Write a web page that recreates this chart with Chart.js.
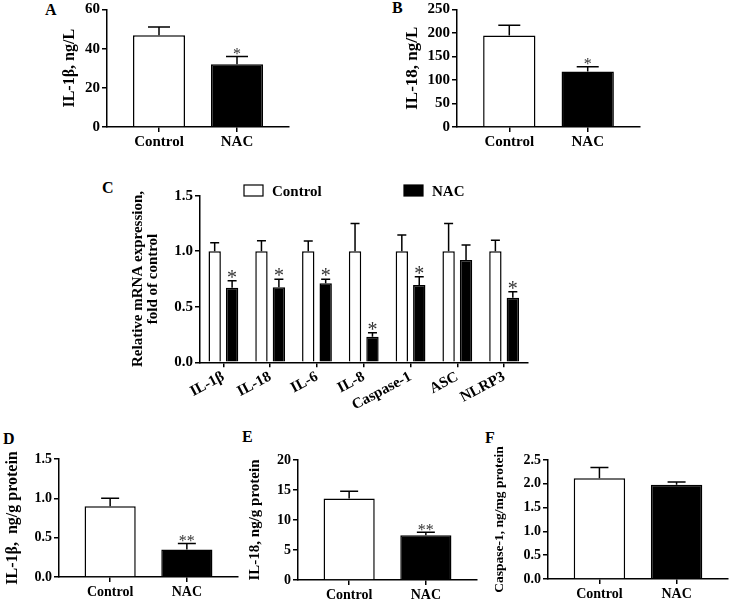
<!DOCTYPE html>
<html>
<head>
<meta charset="utf-8">
<script src="https://cdn.jsdelivr.net/npm/chart.js@4.4.0/dist/chart.umd.min.js"></script>
<style>
  body { margin: 0; background: #fff; }
  #fig { position: relative; width: 729px; height: 600px; overflow: hidden; }
  canvas { position: absolute; }
  .tag { position: absolute; font: bold 16px "Liberation Serif", "Times New Roman", serif; line-height: 1; color: #000; }
</style>
</head>
<body>
<div id="fig">
  <div class="tag" style="left:45px;top:2px">A</div>
  <div class="tag" style="left:392px;top:0px">B</div>
  <div class="tag" style="left:102px;top:180px">C</div>
  <div class="tag" style="left:3px;top:431px">D</div>
  <div class="tag" style="left:242px;top:429px">E</div>
  <div class="tag" style="left:485px;top:430px">F</div>

  <canvas id="chartA" width="260" height="160" style="left:40px;top:0px"></canvas>
  <canvas id="chartB" width="280" height="160" style="left:370px;top:0px"></canvas>
  <canvas id="chartC" width="430" height="250" style="left:110px;top:170px"></canvas>
  <canvas id="chartD" width="245" height="180" style="left:0px;top:420px"></canvas>
  <canvas id="chartE" width="245" height="180" style="left:240px;top:420px"></canvas>
  <canvas id="chartF" width="249" height="180" style="left:480px;top:420px"></canvas>
</div>

<script>
// groups for the two-bar panels
const groups = ["Control", "NAC"];

// A - serum IL-1β
const aValues = [46.9, 32.1];
const aErrors = [4.2, 3.9];
const aMarks = ["", "*"];
const aTicks = [0, 20, 40, 60];

// B - serum IL-18
const bValues = [194.6, 118];
const bErrors = [22, 10];
const bMarks = ["", "*"];
const bTicks = [0, 50, 100, 150, 200, 250];

// C - relative mRNA expression
const genes = ["IL-1β", "IL-18", "IL-6", "IL-8", "Caspase-1", "ASC", "NLRP3"];
const cControl = [1, 1, 1, 1, 1, 1, 1];
const cControlErr = [0.077, 0.095, 0.092, 0.25, 0.146, 0.25, 0.10];
const cNac = [0.672, 0.675, 0.711, 0.231, 0.696, 0.921, 0.582];
const cNacErr = [0.063, 0.072, 0.036, 0.036, 0.075, 0.135, 0.054];
const cNacMarks = ["*", "*", "*", "*", "*", "", "*"];
const cTicks = [0, 0.5, 1, 1.5];

// D - tissue IL-1β
const dValues = [0.90, 0.35];
const dErrors = [0.10, 0.076];
const dMarks = ["", "**"];
const dTicks = [0, 0.5, 1, 1.5];

// E - tissue IL-18
const eValues = [13.6, 7.44];
const eErrors = [1.2, 0.5];
const eMarks = ["", "**"];
const eTicks = [0, 5, 10, 15, 20];

// F - tissue caspase-1
const fValues = [2.115, 1.98];
const fErrors = [0.225, 0.06];
const fMarks = ["", ""];
const fTicks = [0, 0.5, 1, 1.5, 2, 2.5];

const SERIF = '"Liberation Serif", "Times New Roman", serif';
Chart.defaults.font.family = SERIF;
Chart.defaults.color = "#000";

/* ==========================
   ERROR BARS + ASTERISKS
========================== */
const errorBars = {
    id: "errorBars",
    afterDatasetsDraw(chart, args, opts) {
        const ctx = chart.ctx;
        const yScale = chart.scales.y;
        chart.data.datasets.forEach((ds, di) => {
            const meta = chart.getDatasetMeta(di);
            meta.data.forEach((bar, i) => {
                const raw = ds.data[i];
                const val = typeof raw === "object" ? raw.y : raw;
                const top = yScale.getPixelForValue(val + ds.errors[i]);
                ctx.save();
                ctx.strokeStyle = "#000";
                ctx.lineWidth = 1.5;
                ctx.beginPath();
                ctx.moveTo(bar.x, bar.y);
                ctx.lineTo(bar.x, top);
                ctx.moveTo(bar.x - opts.cap / 2, top);
                ctx.lineTo(bar.x + opts.cap / 2, top);
                ctx.stroke();
                const mark = ds.marks && ds.marks[i];
                if (mark) {
                    ctx.font = opts.markSize + "px " + SERIF;
                    ctx.fillStyle = opts.markColor;
                    ctx.textAlign = "center";
                    ctx.textBaseline = "alphabetic";
                    ctx.fillText(mark, bar.x, top + opts.markShift);
                }
                ctx.restore();
            });
        });
    }
};

/* ==========================
   LEGEND FOR PANEL C
========================== */
const boxLegend = {
    id: "boxLegend",
    afterDraw(chart, args, opts) {
        if (!opts.x) return;
        const ctx = chart.ctx;
        chart.data.datasets.forEach((ds, i) => {
            const x = opts.x[i];
            ctx.save();
            ctx.fillStyle = ds.backgroundColor;
            ctx.fillRect(x, opts.y, 19, 11);
            ctx.strokeStyle = "#000";
            ctx.lineWidth = 1.2;
            ctx.strokeRect(x, opts.y, 19, 11);
            ctx.fillStyle = "#000";
            ctx.font = "bold 15px " + SERIF;
            ctx.textBaseline = "alphabetic";
            ctx.fillText(ds.label, x + 28, opts.y + 10.5);
            ctx.restore();
        });
    }
};

function yAxis(cfg) {
    return {
        min: cfg.ticks[0],
        max: cfg.ticks[cfg.ticks.length - 1],
        afterBuildTicks: s => { s.ticks = cfg.ticks.map(v => ({ value: v })); },
        afterFit: s => { s.width = cfg.yWidth; },
        ticks: {
            font: { size: cfg.tickSize, weight: "bold", lineHeight: 1 },
            color: "#000",
            padding: 2,
            callback: v => v.toFixed(cfg.decimals)
        },
        grid: { drawOnChartArea: false, tickLength: 5, color: "#000", lineWidth: 1.5 },
        border: { color: "#000", width: 1.5 },
        title: {
            display: true,
            text: cfg.title,
            color: "#000",
            font: { size: cfg.titleSize, weight: "bold", lineHeight: cfg.titleLine || 1 },
            padding: { top: cfg.titlePad, bottom: 0 }
        }
    };
}

function pairChart(id, cfg) {
    return new Chart(document.getElementById(id), {
        type: "bar",
        data: {
            datasets: [{
                data: cfg.values.map((v, i) => ({ x: i, y: v })),
                errors: cfg.errors,
                marks: cfg.marks,
                backgroundColor: ["#ffffff", "#000000"],
                borderColor: "#000",
                borderWidth: 1.5,
                categoryPercentage: 1,
                barPercentage: 0.667
            }]
        },
        options: {
            animation: false,
            responsive: false,
            layout: { padding: cfg.pad },
            plugins: {
                legend: { display: false },
                tooltip: { enabled: false },
                errorBars: { cap: cfg.cap, markSize: cfg.markSize, markShift: cfg.markShift, markColor: "#333" }
            },
            scales: {
                x: {
                    type: "linear",
                    min: -2 / 3,
                    max: groups.length - 1 + 2 / 3,
                    offset: false,
                    afterBuildTicks: s => { s.ticks = groups.map((g, i) => ({ value: i })); },
                    afterFit: s => { s.height = cfg.xHeight; },
                    ticks: {
                        font: { size: cfg.tickSize, weight: "bold", lineHeight: 1 },
                        color: "#000",
                        padding: 3,
                        maxRotation: 0,
                        autoSkip: false,
                        callback: v => groups[v]
                    },
                    grid: { drawOnChartArea: false, offset: false, tickLength: 5, color: "#000", lineWidth: 1.5 },
                    border: { color: "#000", width: 1.5 }
                },
                y: yAxis(cfg)
            }
        },
        plugins: [errorBars]
    });
}

pairChart("chartA", {
    values: aValues, errors: aErrors, marks: aMarks, ticks: aTicks, decimals: 0,
    title: "IL-1β, ng/L", titleSize: 16, titlePad: 22, tickSize: 15,
    yWidth: 67, xHeight: 33, pad: { top: 8, right: 11, bottom: 0, left: 0 },
    cap: 22, markSize: 16, markShift: 2
});

pairChart("chartB", {
    values: bValues, errors: bErrors, marks: bMarks, ticks: bTicks, decimals: 0,
    title: "IL-18, ng/L", titleSize: 17, titlePad: 34.5, tickSize: 15,
    yWidth: 87, xHeight: 33, pad: { top: 7, right: 10, bottom: 0, left: 0 },
    cap: 22, markSize: 16, markShift: 2
});

pairChart("chartD", {
    values: dValues, errors: dErrors, marks: dMarks, ticks: dTicks, decimals: 1,
    title: "IL-1β,  ng/g protein", titleSize: 16, titlePad: 5, tickSize: 14,
    yWidth: 59, xHeight: 23, pad: { top: 39, right: 7, bottom: 0, left: 0 },
    cap: 18, markSize: 16, markShift: 3
});

pairChart("chartE", {
    values: eValues, errors: eErrors, marks: eMarks, ticks: eTicks, decimals: 0,
    title: "IL-18, ng/g protein", titleSize: 15, titlePad: 7.5, tickSize: 14,
    yWidth: 58, xHeight: 20, pad: { top: 40, right: 8, bottom: 0, left: 0 },
    cap: 18, markSize: 16, markShift: 3
});

pairChart("chartF", {
    values: fValues, errors: fErrors, marks: fMarks, ticks: fTicks, decimals: 1,
    title: "Caspase-1, ng/mg protein", titleSize: 13.5, titlePad: 13, tickSize: 14,
    yWidth: 68, xHeight: 21, pad: { top: 40, right: 1, bottom: 0, left: 0 },
    cap: 18, markSize: 16, markShift: 3
});

/* ==========================
   PANEL C - GROUPED BARS
========================== */
new Chart(document.getElementById("chartC"), {
    type: "bar",
    data: {
        labels: genes,
        datasets: [
            {
                label: "Control",
                data: cControl,
                errors: cControlErr,
                marks: [],
                backgroundColor: "#ffffff",
                borderColor: "#000",
                borderWidth: 1.5,
                categoryPercentage: 0.745,
                barPercentage: 0.71
            },
            {
                label: "NAC",
                data: cNac,
                errors: cNacErr,
                marks: cNacMarks,
                backgroundColor: "#000000",
                borderColor: "#000",
                borderWidth: 1.5,
                categoryPercentage: 0.745,
                barPercentage: 0.71
            }
        ]
    },
    options: {
        animation: false,
        responsive: false,
        layout: { padding: { top: 25.7, right: 12.5, bottom: 0, left: 0 } },
        plugins: {
            legend: { display: false },
            tooltip: { enabled: false },
            errorBars: { cap: 9, markSize: 20, markShift: 3, markColor: "#333" },
            boxLegend: { x: [134, 294], y: 15 }
        },
        scales: {
            x: {
                afterFit: s => { s.height = 57.7; },
                ticks: {
                    font: { size: 15, weight: "bold", lineHeight: 1 },
                    color: "#000",
                    padding: 2,
                    minRotation: 28,
                    maxRotation: 28,
                    autoSkip: false
                },
                grid: { drawOnChartArea: false, offset: false, tickLength: 5, color: "#000", lineWidth: 1.5 },
                border: { color: "#000", width: 1.5 }
            },
            y: yAxis({
                ticks: cTicks, decimals: 1, yWidth: 90, tickSize: 15,
                title: ["Relative mRNA expression,", "fold of control"],
                titleSize: 15, titleLine: "15px", titlePad: 20.5
            })
        }
    },
    plugins: [errorBars, boxLegend]
});
</script>
</body>
</html>
